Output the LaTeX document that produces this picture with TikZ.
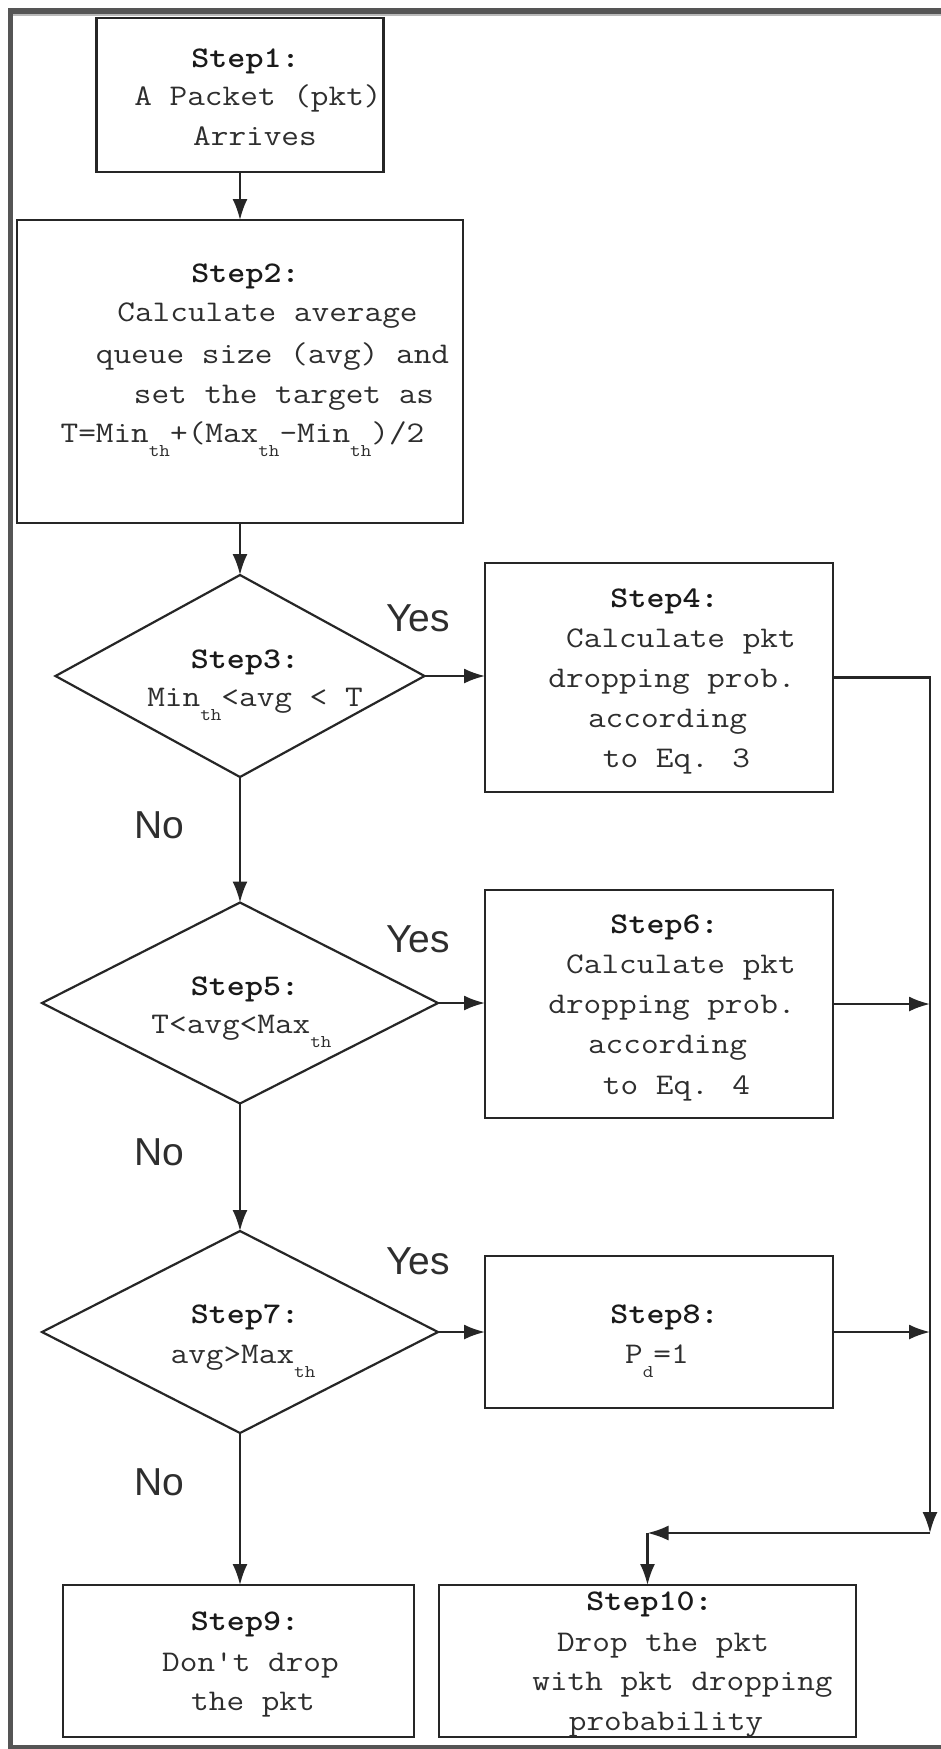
\documentclass[tikz,border=0pt]{standalone}
\usepackage{fontspec}
\usepackage{graphicx}
\usetikzlibrary{shapes.geometric,arrows.meta}

\newfontfamily\yesnofont{Liberation Sans}

\definecolor{inkline}{HTML}{262626}
\definecolor{inktext}{HTML}{2E2E2E}
\definecolor{inkhead}{HTML}{1A1A1A}
\definecolor{framegray}{HTML}{555555}

% typewriter text, widened to Courier proportions
\newcommand{\mono}[1]{\scalebox{1.143}[1]{\ttfamily\fontsize{30}{36}\selectfont #1}}
\newcommand{\monob}[1]{\scalebox{1.143}[1]{\ttfamily\bfseries\fontsize{30}{36}\selectfont #1}}
\newcommand{\lowidx}[1]{\raisebox{-14pt}{\fontsize{18}{18}\selectfont #1}}

\tikzset{
  box/.style={draw=inkline, line width=2.2pt, rectangle, inner sep=0pt, outer sep=0pt},
  dia/.style={draw=inkline, line width=2.2pt, diamond, inner sep=0pt, outer sep=0pt},
  ln/.style={text=inktext, inner sep=0pt, anchor=base},
  hd/.style={text=inkhead, inner sep=0pt, anchor=base},
  yn/.style={text=inktext, inner sep=0pt, anchor=base west, font=\yesnofont\fontsize{39}{39}\selectfont},
  flow/.style={draw=inkline, line width=2.2pt, -{Latex[length=21pt,width=15pt]}},
  wire/.style={draw=inkline, line width=2.2pt},
}

\begin{document}
\begin{tikzpicture}[x=1pt, y=-1pt]
\useasboundingbox (0,0) rectangle (941,1749);
\fill[white] (0,0) rectangle (941,1749);

% outer frame
\fill[framegray] (8,8) rectangle (941,14);
\fill[gray!55] (13,14) rectangle (941,16);
\fill[framegray] (8,8) rectangle (13,1749);
\fill[framegray] (8,1745) rectangle (941,1749);

% boxes
\node[box, minimum width=287pt, minimum height=154pt] (s1) at (240,95) {};
\node[box, minimum width=446pt, minimum height=303pt] (s2) at (240,371.5) {};
\node[dia, minimum width=369pt, minimum height=202pt] (d3) at (240,676) {};
\node[box, minimum width=348pt, minimum height=229pt] (s4) at (659,677.5) {};
\node[dia, minimum width=396pt, minimum height=201pt] (d5) at (240,1003) {};
\node[box, minimum width=348pt, minimum height=228pt] (s6) at (659,1004) {};
\node[dia, minimum width=396pt, minimum height=202pt] (d7) at (240,1332) {};
\node[box, minimum width=348pt, minimum height=152pt] (s8) at (659,1332) {};
\node[box, minimum width=351pt, minimum height=152pt] (s9) at (238.5,1661) {};
\node[box, minimum width=417pt, minimum height=152pt] (s10) at (647.5,1661) {};

% step 1
\node[hd] (t1a) at (245.5,67) {\monob{Step1:}};
\node[ln] (t1b) at (258,105) {\mono{A Packet (pkt)}};
\node[ln] (t1c) at (255,145) {\mono{Arrives}};

% step 2
\node[hd] (t2a) at (245.5,282) {\monob{Step2:}};
\node[ln] (t2b) at (267.5,321) {\mono{Calculate average}};
\node[ln] (t2c) at (272.5,363) {\mono{queue size (avg) and}};
\node[ln] (t2d) at (284,403) {\mono{set the target as}};
\node[ln] (t2e) at (242.5,442) {\mono{T=Min\lowidx{th}+(Max\lowidx{th}-Min\lowidx{th})/2}};

% step 3
\node[hd] (t3a) at (245,668) {\monob{Step3:}};
\node[ln] (t3b) at (255,706) {\mono{Min\lowidx{th}<avg < T}};

% step 4
\node[hd] (t4a) at (664.5,607) {\monob{Step4:}};
\node[ln] (t4b) at (681,647) {\mono{Calculate pkt}};
\node[ln] (t4c) at (672,687) {\mono{dropping prob.}};
\node[ln] (t4d) at (667.5,727) {\mono{according}};
\node[ln] (t4e) at (676.5,767) {\mono{to Eq. 3}};

% step 5
\node[hd] (t5a) at (245,995) {\monob{Step5:}};
\node[ln] (t5b) at (241.5,1033) {\mono{T<avg<Max\lowidx{th}}};

% step 6
\node[hd] (t6a) at (664.5,933) {\monob{Step6:}};
\node[ln] (t6b) at (681,973) {\mono{Calculate pkt}};
\node[ln] (t6c) at (672,1013) {\mono{dropping prob.}};
\node[ln] (t6d) at (667.5,1053) {\mono{according}};
\node[ln] (t6e) at (676.5,1094) {\mono{to Eq. 4}};

% step 7
\node[hd] (t7a) at (245,1323) {\monob{Step7:}};
\node[ln] (t7b) at (243,1363) {\mono{avg>Max\lowidx{th}}};

% step 8
\node[hd] (t8a) at (664.5,1323) {\monob{Step8:}};
\node[ln] (t8b) at (657,1363) {\mono{P\lowidx{d}=1}};

% step 9
\node[hd] (t9a) at (245,1630) {\monob{Step9:}};
\node[ln] (t9b) at (250.5,1671) {\mono{Don\textquotesingle t drop}};
\node[ln] (t9c) at (253,1710) {\mono{the pkt}};

% step 10
\node[hd] (t10a) at (649.5,1610) {\monob{Step10:}};
\node[ln] (t10b) at (663,1651) {\mono{Drop the pkt}};
\node[ln] (t10c) at (682.5,1690) {\mono{with pkt dropping}};
\node[ln] (t10d) at (666,1730) {\mono{probability}};

% branch labels
\node[yn] (y3) at (386,631) {Yes};
\node[yn] (y5) at (386,952) {Yes};
\node[yn] (y7) at (386,1274) {Yes};
\node[yn] (n3) at (134,838) {No};
\node[yn] (n5) at (134,1165) {No};
\node[yn] (n7) at (134,1495) {No};

% main column
\draw[flow] (s1.south) -- (s1.south |- s2.north);
\draw[flow] (s2.south) -- (s2.south |- d3.north);
\draw[flow] (d3.south) -- (d5.north);
\draw[flow] (d5.south) -- (d7.north);
\draw[flow] (d7.south) -- (d7.south |- s9.north);

% yes branches
\draw[flow] (d3.east) -- (d3.east -| s4.west);
\draw[flow] (d5.east) -- (d5.east -| s6.west);
\draw[flow] (d7.east) -- (d7.east -| s8.west);

% collecting rail on the right
\coordinate (rail) at (930,1533);
\coordinate (turn) at (647.5,1533);
\draw[flow] (s4.east) -| (rail);
\draw[flow] (s6.east) -- (s6.east -| rail);
\draw[flow] (s8.east) -- (s8.east -| rail);
\draw[flow] (rail) -- (turn);
\draw[flow] (turn) -- (s10.north);
\end{tikzpicture}
\end{document}
